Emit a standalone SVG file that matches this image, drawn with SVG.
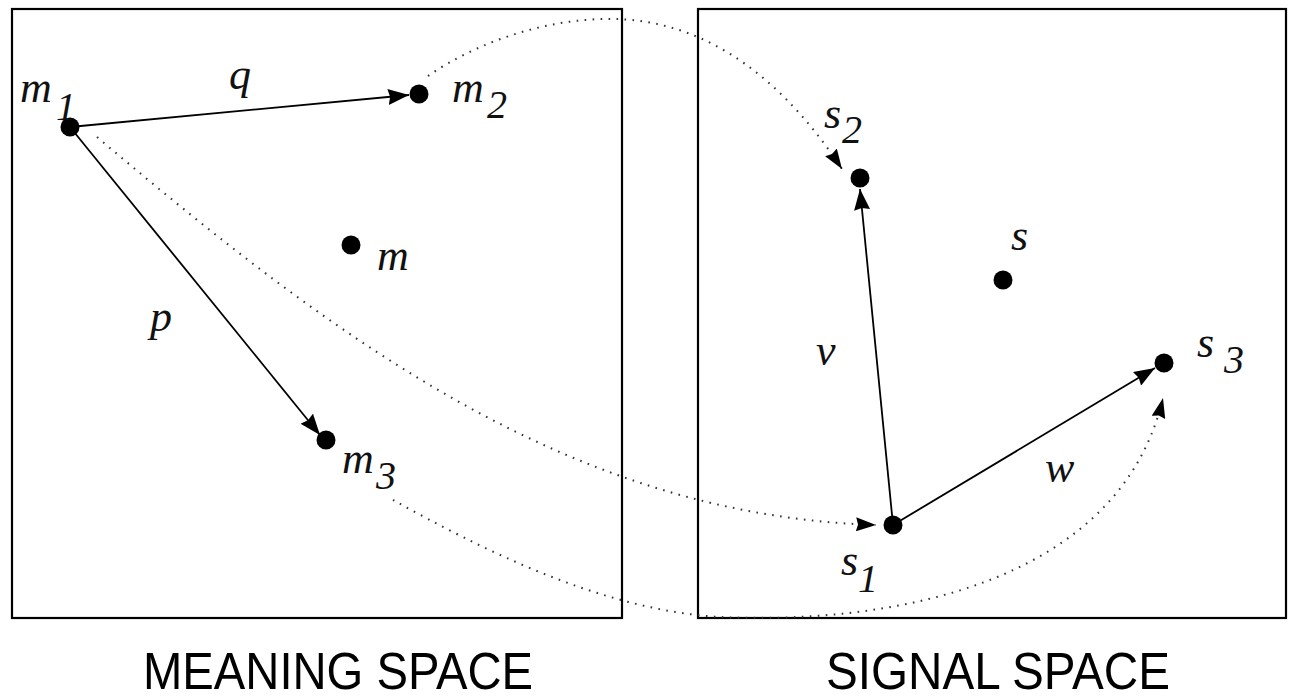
<svg xmlns="http://www.w3.org/2000/svg" width="1294" height="700" viewBox="0 0 1294 700">
  <style>
    .frame { fill: none; stroke: #000; stroke-width: 2.2; }
    .pt { fill: #000; }
    .vec { fill: none; stroke: #000; stroke-width: 1.8; }
    .map { fill: none; stroke: #333; stroke-width: 2; stroke-dasharray: 1.6 6.4; }
    .lbl { font-family: "Liberation Serif", "Times New Roman", "DejaVu Serif", serif; font-style: italic; font-size: 44px; fill: #111; }
    .sub { font-size: 40px; }
    .title { font-family: "Liberation Sans", Arial, sans-serif; font-size: 52px; fill: #000; }
  </style>
  <defs>
    <marker id="head" markerUnits="userSpaceOnUse" markerWidth="22" markerHeight="16" refX="21" refY="8" orient="auto">
      <path d="M0,0 L21,8 L0,16 L2,8 z" fill="#000"/>
    </marker>
    <marker id="headDot" markerUnits="userSpaceOnUse" markerWidth="21" markerHeight="14" refX="20" refY="7" orient="auto">
      <path d="M0,0 L20,7 L0,14 L2,7 z" fill="#000"/>
    </marker>
  </defs>

  <!-- the two spaces -->
  <g id="meaning-space">
    <rect class="frame" x="12" y="9" width="610" height="609"/>
    <text class="title" x="143" y="689" textLength="390" lengthAdjust="spacingAndGlyphs">MEANING SPACE</text>
  </g>
  <g id="signal-space">
    <rect class="frame" x="698" y="9" width="588" height="609"/>
    <text class="title" x="826" y="689" textLength="344" lengthAdjust="spacingAndGlyphs">SIGNAL SPACE</text>
  </g>

  <!-- vectors and mappings -->
  <g id="connectors">
    <line class="vec" x1="70" y1="127" x2="409" y2="95" marker-end="url(#head)"/>
    <line class="vec" x1="70" y1="127" x2="320" y2="435" marker-end="url(#head)"/>
    <line class="vec" x1="893" y1="525" x2="860" y2="189" marker-end="url(#head)"/>
    <line class="vec" x1="893" y1="525" x2="1155" y2="368" marker-end="url(#head)"/>

    <path class="map" d="M428,76 C480,40 550,18 613,19 C690,20 770,60 842,169" marker-end="url(#headDot)"/>
    <path class="map" d="M97,137 C347,349 576,515 876,525" marker-end="url(#headDot)"/>
    <path class="map" d="M393,500 C480,548 600,610 720,617 C900,625 1120,580 1163,398" marker-end="url(#headDot)"/>
  </g>

  <!-- meaning points -->
  <g id="m1">
    <circle class="pt" cx="70" cy="127" r="9.5"/>
    <text class="lbl" x="20" y="102">m</text>
    <text class="lbl sub" x="56" y="120">1</text>
  </g>
  <g id="m2">
    <circle class="pt" cx="419" cy="94" r="9.5"/>
    <text class="lbl" x="452" y="102">m</text>
    <text class="lbl sub" x="487" y="118">2</text>
  </g>
  <g id="m">
    <circle class="pt" cx="351" cy="245" r="9.5"/>
    <text class="lbl" x="377" y="270">m</text>
  </g>
  <g id="m3">
    <circle class="pt" cx="326" cy="440" r="9.5"/>
    <text class="lbl" x="342" y="473">m</text>
    <text class="lbl sub" x="376" y="489">3</text>
  </g>
  <text class="lbl" x="229" y="89">q</text>
  <text class="lbl" x="150" y="331">p</text>

  <!-- signal points -->
  <g id="s1">
    <circle class="pt" cx="893" cy="525" r="9.5"/>
    <text class="lbl" x="841" y="575">s</text>
    <text class="lbl sub" x="858" y="592">1</text>
  </g>
  <g id="s2">
    <circle class="pt" cx="860" cy="178" r="9.5"/>
    <text class="lbl" x="824" y="128">s</text>
    <text class="lbl sub" x="842" y="143">2</text>
  </g>
  <g id="s">
    <circle class="pt" cx="1003" cy="280" r="9.5"/>
    <text class="lbl" x="1011" y="250">s</text>
  </g>
  <g id="s3">
    <circle class="pt" cx="1164" cy="363" r="9.5"/>
    <text class="lbl" x="1197" y="357">s</text>
    <text class="lbl sub" x="1224" y="373">3</text>
  </g>
  <text class="lbl" x="816" y="365">v</text>
  <text class="lbl" x="1045" y="482">w</text>
</svg>
